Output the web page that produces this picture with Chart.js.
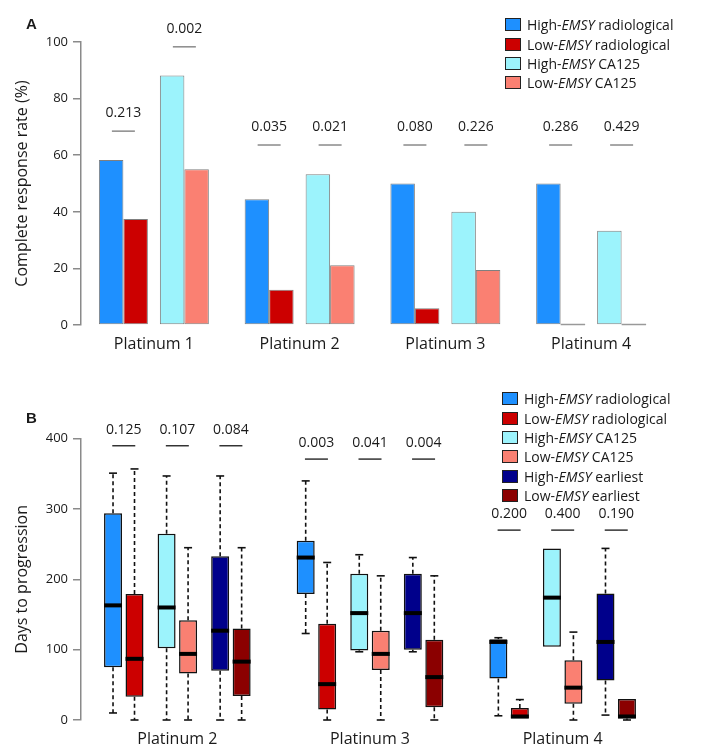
<!DOCTYPE html>
<html>
<head>
<meta charset="utf-8">
<script src="https://cdn.jsdelivr.net/npm/chart.js@4.4.1/dist/chart.umd.min.js"></script>
<style>
  html, body { margin: 0; padding: 0; background: #fff; }
  body { width: 709px; height: 756px; position: relative; overflow: hidden; font-family: 'Open Sans', sans-serif; color: #1a1a1a; }
  .wrap { position: absolute; left: 0; width: 709px; }
  #wrapA { top: 0; height: 360px; }
  #wrapB { top: 360px; height: 396px; }
  .tag { position: absolute; font: bold 15px 'Liberation Sans', Arial, sans-serif; line-height: 15px; }
  .legend { position: absolute; font-size: 14px; }
  .legend div { display: flex; align-items: center; height: 19.4px; white-space: nowrap; }
  .legend .sw { width: 14px; height: 11px; border: 1.4px solid #222; margin-right: 6px; }
</style>
</head>
<body>
<div class="wrap" id="wrapA"><canvas id="chartA"></canvas></div>
<div class="wrap" id="wrapB"><canvas id="chartB"></canvas></div>
<div class="tag" style="left:26px;top:16px">A</div>
<div class="tag" style="left:26px;top:410px">B</div>
<div class="legend" id="legA" style="left:505px;top:15px"></div>
<div class="legend" id="legB" style="left:502px;top:389px"></div>
<script>
// ---- panel A: complete response rate (%)
const platA = ['Platinum 1', 'Platinum 2', 'Platinum 3', 'Platinum 4']
const highRadA = [58.3, 44.4, 50, 50]
const lowRadA  = [37.5, 12.5, 5.9, 0]
const highCaA  = [88.2, 53.3, 40, 33.3]
const lowCaA   = [55, 21.1, 19.4, 0]
const pRadA = ['0.213', '0.035', '0.080', '0.286']
const pCaA  = ['0.002', '0.021', '0.226', '0.429']
const sigRadA = [68.5, 63.6, 63.6, 63.6]
const sigCaA  = [98.3, 63.6, 63.6, 63.6]

// ---- panel B: days to progression, [min, q1, median, q3, max]
const platB = ['Platinum 2', 'Platinum 3', 'Platinum 4']
const highRadB = [[10, 75, 163, 294, 351], [123, 179, 231, 255, 340], [6, 59, 111, 115, 117]]
const lowRadB  = [[0, 33, 87, 179, 357], [0, 15, 51, 137, 224], [2, 2, 5, 17, 29]]
const highCaB  = [[0, 102, 160, 265, 347], [97, 99, 152, 208, 235], [104, 104, 174, 244, 244]]
const lowCaB   = [[0, 66, 94, 142, 245], [0, 71, 94, 127, 205], [0, 23, 46, 85, 125]]
const highEarB = [[0, 70, 127, 233, 347], [97, 100, 152, 208, 231], [7, 56, 111, 180, 244]]
const lowEarB  = [[0, 34, 83, 130, 245], [0, 18, 61, 114, 205], [0, 2, 5, 30, 30]]
const pRadB = ['0.125', '0.003', '0.200']
const pCaB  = ['0.107', '0.041', '0.400']
const pEarB = ['0.084', '0.004', '0.190']
const sigB  = [390, 371, 270]

const C_HIGH_RAD = '#1E90FF', C_LOW_RAD = '#CC0000'
const C_HIGH_CA = '#9CF3FC', C_LOW_CA = '#FA8072'
const C_HIGH_EAR = '#00008B', C_LOW_EAR = '#8B0000'
const TXT = '#1a1a1a', AXIS = '#8a8a8a'

Chart.defaults.font.family = "'Open Sans', sans-serif"
Chart.defaults.color = TXT

function legend(el, items) {
  document.getElementById(el).innerHTML = items.map(([c, pre, post]) =>
    `<div><span class="sw" style="background:${c}"></span>${pre}-<i>EMSY</i>&nbsp;${post}</div>`).join('')
}
legend('legA', [[C_HIGH_RAD, 'High', 'radiological'], [C_LOW_RAD, 'Low', 'radiological'],
  [C_HIGH_CA, 'High', 'CA125'], [C_LOW_CA, 'Low', 'CA125']])
legend('legB', [[C_HIGH_RAD, 'High', 'radiological'], [C_LOW_RAD, 'Low', 'radiological'],
  [C_HIGH_CA, 'High', 'CA125'], [C_LOW_CA, 'Low', 'CA125'],
  [C_HIGH_EAR, 'High', 'earliest'], [C_LOW_EAR, 'Low', 'earliest']])

// spread the grouped bars apart pair by pair
const pairShift = {
  id: 'pairShift',
  afterDatasetsUpdate(chart, args, opts) {
    chart.data.datasets.forEach((ds, i) => {
      const dx = opts.shifts[i] || 0
      chart.getDatasetMeta(i).data.forEach(el => { el.x += dx })
    })
  }
}

function sigMark(ctx, cx, py, label, color, gap) {
  ctx.strokeStyle = color
  ctx.beginPath(); ctx.moveTo(cx - 11.5, py); ctx.lineTo(cx + 11.5, py); ctx.stroke()
  ctx.fillText(label, cx, py - gap)
}

const sigA = {
  id: 'sigA',
  afterDatasetsDraw(chart) {
    const { ctx } = chart
    const y = chart.scales.y
    const m = [0, 1, 2, 3].map(i => chart.getDatasetMeta(i).data)
    ctx.save()
    ctx.lineWidth = 1.5
    ctx.font = "14px 'Open Sans'"
    ctx.fillStyle = TXT
    ctx.textAlign = 'center'
    ctx.textBaseline = 'middle'
    platA.forEach((_, k) => {
      sigMark(ctx, (m[0][k].x + m[1][k].x) / 2, y.getPixelForValue(sigRadA[k]), pRadA[k], AXIS, 18)
      sigMark(ctx, (m[2][k].x + m[3][k].x) / 2, y.getPixelForValue(sigCaA[k]), pCaA[k], AXIS, 18)
    })
    // zero bars show as a grey stub on the baseline
    ctx.strokeStyle = '#999'
    m.forEach((bars, i) => bars.forEach((el, k) => {
      if (chart.data.datasets[i].data[k] !== 0) return
      const y0 = y.getPixelForValue(0)
      ctx.beginPath(); ctx.moveTo(el.x - el.width / 2, y0 - 0.5); ctx.lineTo(el.x + el.width / 2, y0 - 0.5); ctx.stroke()
    }))
    ctx.restore()
  }
}

const seriesB = [highRadB, lowRadB, highCaB, lowCaB, highEarB, lowEarB]

const boxParts = {
  id: 'boxParts',
  afterDatasetsDraw(chart) {
    const { ctx } = chart
    const y = chart.scales.y
    ctx.save()
    seriesB.forEach((ser, i) => {
      chart.getDatasetMeta(i).data.forEach((el, k) => {
        const [mn, q1, md, q3, mx] = ser[k]
        const half = el.width / 2
        ctx.strokeStyle = '#111'
        ctx.lineWidth = 1.6
        const whisker = (from, to) => {
          if (from === to) return
          ctx.setLineDash([4, 3])
          ctx.beginPath(); ctx.moveTo(el.x, y.getPixelForValue(from)); ctx.lineTo(el.x, y.getPixelForValue(to)); ctx.stroke()
          ctx.setLineDash([])
          ctx.beginPath(); ctx.moveTo(el.x - 4, y.getPixelForValue(to)); ctx.lineTo(el.x + 4, y.getPixelForValue(to)); ctx.stroke()
        }
        whisker(q3, mx)
        whisker(q1, mn)
        ctx.fillStyle = '#000'
        ctx.fillRect(el.x - half, y.getPixelForValue(md) - 2, half * 2, 4)
      })
    })
    const m = [0, 2, 4].map(i => chart.getDatasetMeta(i).data)
    const n = [1, 3, 5].map(i => chart.getDatasetMeta(i).data)
    const labels = [pRadB, pCaB, pEarB]
    ctx.lineWidth = 1.5
    ctx.font = "14px 'Open Sans'"
    ctx.fillStyle = TXT
    ctx.textAlign = 'center'
    ctx.textBaseline = 'middle'
    platB.forEach((_, k) => {
      for (let g = 0; g < 3; g++) {
        sigMark(ctx, (m[g][k].x + n[g][k].x) / 2, y.getPixelForValue(sigB[k]), labels[g][k], '#333', 16)
      }
    })
    ctx.restore()
  }
}

function yAxis(max, step, title) {
  return {
    min: 0, max,
    afterFit: s => { s.width = 81 },
    border: { color: AXIS, width: 1.5 },
    grid: { drawOnChartArea: false, color: AXIS, lineWidth: 1.5, tickLength: 8 },
    ticks: { stepSize: step, padding: 5, color: TXT, font: { size: 13 } },
    title: { display: true, text: title, color: TXT, font: { size: 16 }, padding: { top: 13, bottom: 0 } }
  }
}

function xAxis(h) {
  return {
    afterFit: s => { s.height = h },
    border: { display: false },
    grid: { display: false, drawTicks: false },
    ticks: { padding: 10, color: TXT, font: { size: 16 } }
  }
}

const barA = (label, data, color) => ({
  label, data, backgroundColor: color,
  borderColor: 'rgba(0,0,0,0.5)', borderWidth: 1, borderSkipped: false
})

new Chart(document.getElementById('chartA'), {
  type: 'bar',
  data: {
    labels: platA,
    datasets: [
      barA('High-EMSY radiological', highRadA, C_HIGH_RAD),
      barA('Low-EMSY radiological', lowRadA, C_LOW_RAD),
      barA('High-EMSY CA125', highCaA, C_HIGH_CA),
      barA('Low-EMSY CA125', lowCaA, C_LOW_CA)
    ]
  },
  options: {
    responsive: true, maintainAspectRatio: false, animation: false,
    categoryPercentage: 0.672, barPercentage: 1,
    layout: { padding: { top: 42, right: 45, bottom: 0, left: 0 } },
    plugins: {
      legend: { display: false }, tooltip: { enabled: false },
      pairShift: { shifts: [-6, -6, 6, 6] }
    },
    scales: { x: xAxis(35), y: yAxis(100, 20, 'Complete response rate (%)') }
  },
  plugins: [pairShift, sigA]
})

const boxB = (label, ser, color) => ({
  label, data: ser.map(d => [d[1], d[3]]), backgroundColor: color,
  borderColor: '#111', borderWidth: 1.5, borderSkipped: false
})

new Chart(document.getElementById('chartB'), {
  type: 'bar',
  data: {
    labels: platB,
    datasets: [
      boxB('High-EMSY radiological', highRadB, C_HIGH_RAD),
      boxB('Low-EMSY radiological', lowRadB, C_LOW_RAD),
      boxB('High-EMSY CA125', highCaB, C_HIGH_CA),
      boxB('Low-EMSY CA125', lowCaB, C_LOW_CA),
      boxB('High-EMSY earliest', highEarB, C_HIGH_EAR),
      boxB('Low-EMSY earliest', lowEarB, C_LOW_EAR)
    ]
  },
  options: {
    responsive: true, maintainAspectRatio: false, animation: false,
    categoryPercentage: 0.669, barPercentage: 0.837,
    layout: { padding: { top: 78.7, right: 50, bottom: 0, left: 0 } },
    plugins: {
      legend: { display: false }, tooltip: { enabled: false },
      pairShift: { shifts: [-10.6, -10.6, 0, 0, 10.6, 10.6] }
    },
    scales: { x: xAxis(36), y: yAxis(400, 100, 'Days to progression') }
  },
  plugins: [pairShift, boxParts]
})
</script>
</body>
</html>
